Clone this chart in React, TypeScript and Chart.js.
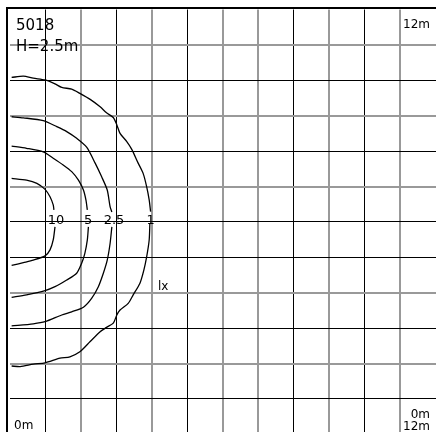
import React, { useEffect, useRef } from "react";
import { Chart, registerables } from "chart.js";

Chart.register(...registerables);

// Isolux contours (metres), each split at its label
const lux1Upper: [number, number][] = [
  [0.06, 10.08], [0.39, 10.12], [0.67, 10.06], [1.0, 10.01], [1.28, 9.9], [1.47, 9.8],
  [1.75, 9.75], [1.98, 9.63], [2.27, 9.46], [2.55, 9.25], [2.73, 9.08], [2.92, 8.95],
  [3.02, 8.74], [3.11, 8.5], [3.3, 8.27], [3.44, 8.05], [3.62, 7.66], [3.76, 7.37],
  [3.86, 6.99], [3.93, 6.62], [3.97, 6.29],
];
const lux1Lower: [number, number][] = [
  [3.95, 5.96], [3.93, 5.49], [3.86, 5.02], [3.78, 4.64], [3.67, 4.27], [3.48, 3.94],
  [3.34, 3.7], [3.11, 3.51], [3.02, 3.37], [2.92, 3.14], [2.73, 3.02], [2.55, 2.9],
  [2.27, 2.62], [1.98, 2.33], [1.7, 2.19], [1.42, 2.15], [1.0, 2.02], [0.67, 1.98],
  [0.3, 1.91], [0.06, 1.93],
];
const lux25Upper: [number, number][] = [
  [0.06, 8.97], [0.39, 8.94], [0.95, 8.86], [1.33, 8.69], [1.61, 8.55], [1.89, 8.36],
  [2.17, 8.11], [2.41, 7.66], [2.59, 7.28], [2.75, 6.9], [2.83, 6.43], [2.88, 6.28],
];
const lux25Lower: [number, number][] = [
  [2.88, 5.86], [2.83, 5.39], [2.75, 4.92], [2.64, 4.55], [2.5, 4.17], [2.31, 3.84],
  [2.08, 3.59], [1.75, 3.46], [1.47, 3.37], [1.0, 3.18], [0.67, 3.12], [0.06, 3.06],
];
const lux5Upper: [number, number][] = [
  [0.06, 8.14], [0.48, 8.08], [0.95, 7.98], [1.23, 7.8], [1.51, 7.61], [1.75, 7.42],
  [1.94, 7.18], [2.08, 6.9], [2.15, 6.62], [2.19, 6.34],
];
const lux5Lower: [number, number][] = [
  [2.22, 5.86], [2.19, 5.49], [2.12, 5.11], [2.03, 4.83], [1.89, 4.55], [1.61, 4.36],
  [1.28, 4.17], [1.0, 4.06], [0.48, 3.94], [0.06, 3.87],
];
const lux10Upper: [number, number][] = [
  [0.06, 7.23], [0.48, 7.18], [0.77, 7.09], [1.0, 6.92], [1.14, 6.71], [1.23, 6.48], [1.25, 6.34],
];
const lux10Lower: [number, number][] = [
  [1.28, 5.86], [1.23, 5.49], [1.14, 5.21], [1.0, 5.04], [0.67, 4.92], [0.39, 4.85], [0.06, 4.77],
];

const contourLabels = ["10", "5", "2.5", "1"];
const contourLabelX = [1.31, 2.21, 2.94, 3.97];
const contourLabelY = [6.05, 6.05, 6.05, 6.05];

const xTicks = [1, 2, 3, 4, 5, 6, 7, 8, 9, 10, 11];
const yTicks = [1, 2, 3, 4, 5, 6, 7, 8, 9, 10, 11];
const xDarkLines = [1, 3, 5, 8, 10];
const yDarkLines = [1, 3, 5, 6, 8, 10];

const titleLines = ["5018", "H=2.5m"];
const cornerTopRight = "12m";
const cornerBottomLeft = "0m";
const cornerBottomRight = ["0m", "12m"];
const unitLabel = "lx";

const FONT = "'DejaVu Sans', sans-serif";

const toPts = (arr: [number, number][]) => arr.map(([x, y]) => ({ x, y }));

const textPlugin = {
  id: "isoText",
  afterDraw(chart: any) {
    const ctx = chart.ctx;
    const xs = chart.scales.x;
    const ys = chart.scales.y;
    ctx.save();
    // frame
    ctx.fillStyle = "#000";
    ctx.fillRect(6, 7, 2, 425);
    ctx.fillRect(6, 7, 430, 2);
    // contour labels
    ctx.font = `13px ${FONT}`;
    ctx.textAlign = "center";
    ctx.textBaseline = "middle";
    contourLabels.forEach((t, i) => {
      ctx.fillText(t, xs.getPixelForValue(contourLabelX[i]), ys.getPixelForValue(contourLabelY[i]));
    });
    ctx.textBaseline = "alphabetic";
    ctx.textAlign = "left";
    ctx.font = `15px ${FONT}`;
    ctx.fillText(titleLines[0], 16, 30);
    ctx.fillText(titleLines[1], 16, 51);
    ctx.font = `12px ${FONT}`;
    ctx.fillText(unitLabel, 158, 290);
    ctx.fillText(cornerBottomLeft, 14, 429);
    ctx.textAlign = "right";
    ctx.fillText(cornerTopRight, 430, 28);
    ctx.fillText(cornerBottomRight[0], 430, 418);
    ctx.fillText(cornerBottomRight[1], 430, 430);
    ctx.restore();
  },
};

export default function App() {
  const ref = useRef<HTMLCanvasElement>(null);
  useEffect(() => {
    if (!ref.current) return;
    const mk = (d: [number, number][]) => ({
      data: toPts(d),
      borderColor: "#000",
      borderWidth: 1.3,
      pointRadius: 0,
      tension: 0.25,
      fill: false,
    });
    const chart = new Chart(ref.current, {
      type: "line",
      data: {
        datasets: [
          mk(lux1Upper), mk(lux1Lower), mk(lux25Upper), mk(lux25Lower),
          mk(lux5Upper), mk(lux5Lower), mk(lux10Upper), mk(lux10Lower),
        ],
      },
      options: {
        animation: false,
        responsive: false,
        devicePixelRatio: 1,
        layout: { padding: { left: 9.5, top: 9.5, right: 0, bottom: 0 } },
        plugins: { legend: { display: false }, tooltip: { enabled: false } },
        scales: {
          x: {
            type: "linear",
            min: 0,
            max: 12,
            afterBuildTicks: (s: any) => { s.ticks = xTicks.map((v) => ({ value: v })); },
            ticks: { display: false },
            border: { display: false },
            grid: {
              drawTicks: false,
              color: (c: any) => (xDarkLines.includes(c.tick?.value) ? "#000" : "#999"),
              lineWidth: (c: any) => (xDarkLines.includes(c.tick?.value) ? 1 : 2),
            },
          },
          y: {
            type: "linear",
            min: 0.065,
            max: 12,
            afterBuildTicks: (s: any) => { s.ticks = yTicks.map((v) => ({ value: v })); },
            ticks: { display: false },
            border: { display: false },
            grid: {
              drawTicks: false,
              color: (c: any) => (yDarkLines.includes(c.tick?.value) ? "#000" : "#999"),
              lineWidth: (c: any) => (yDarkLines.includes(c.tick?.value) ? 1 : 2),
            },
          },
        },
      },
      plugins: [textPlugin],
    } as any);
    return () => chart.destroy();
  }, []);
  return (
    <div style={{ position: "fixed", left: 0, top: 0, width: 436, height: 432, background: "#fff" }}>
      <canvas ref={ref} width={436} height={432} style={{ display: "block" }} />
    </div>
  );
}
